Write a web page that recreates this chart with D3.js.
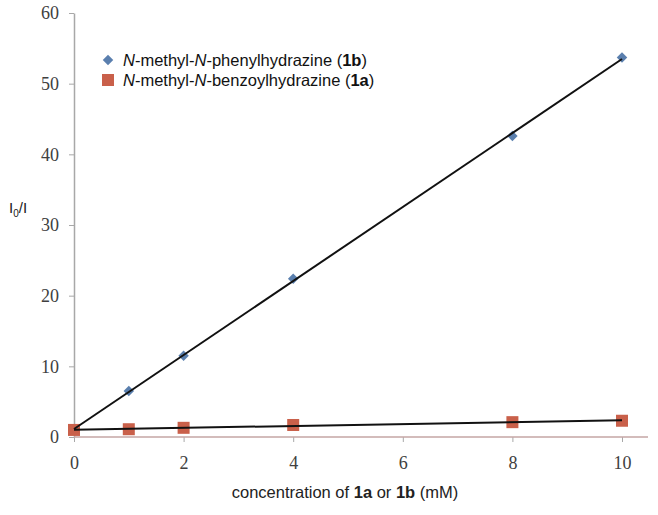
<!DOCTYPE html>
<html>
<head>
<meta charset="utf-8">
<script src="https://cdn.jsdelivr.net/npm/d3@7"></script>
<style>
  body { margin: 0; background: #fff; }
  svg { display: block; }
  .tick text { font-family: "Liberation Serif", "DejaVu Serif", serif; }
</style>
</head>
<body>
<div id="chart"></div>
<script>
// concentrations (mM)
var conc = [0, 1, 2, 4, 8, 10];
// I0/I readings
var phenyl = [1.0, 6.5, 11.5, 22.4, 42.6, 53.7];   // 1b, diamonds
var benzoyl = [1.0, 1.1, 1.3, 1.7, 2.1, 2.3];      // 1a, squares
var xTicks = [0, 2, 4, 6, 8, 10];
var yTicks = [0, 10, 20, 30, 40, 50, 60];

var width = 658, height = 515;
var mLeft = 74, mRight = 622, mTop = 13, mBottom = 437;

var svg = d3.select("#chart").append("svg")
  .attr("width", width)
  .attr("height", height);

var x = d3.scaleLinear().domain([0, 10]).range([mLeft, mRight]);
var y = d3.scaleLinear().domain([0, 60]).range([mBottom, mTop]);

// least squares fit for the trend lines
function fit(xs, ys) {
  var mx = d3.mean(xs), my = d3.mean(ys);
  var sxy = d3.sum(xs, function(v, i) { return (v - mx) * (ys[i] - my); });
  var sxx = d3.sum(xs, function(v) { return (v - mx) * (v - mx); });
  var b = sxy / sxx;
  return function(v) { return my + b * (v - mx); };
}

// y axis
var yAxis = svg.append("g")
  .attr("transform", "translate(" + mLeft + ",0)")
  .call(d3.axisLeft(y).tickValues(yTicks).tickSize(5).tickSizeOuter(0).tickPadding(10));
yAxis.select(".domain").attr("stroke", "#a8a8a8").attr("stroke-width", 1.5);
yAxis.selectAll(".tick line").attr("stroke", "#a8a8a8");
yAxis.selectAll(".tick text").attr("font-size", 18).attr("fill", "#404040");

// x axis (line runs a bit past the last tick)
var xAxis = svg.append("g")
  .attr("transform", "translate(0," + mBottom + ")")
  .call(d3.axisBottom(x).tickValues(xTicks).tickSize(5).tickSizeOuter(0).tickPadding(14));
xAxis.select(".domain").remove();
xAxis.append("line")
  .attr("x1", mLeft).attr("x2", 648)
  .attr("stroke", "#c4a6a4").attr("stroke-width", 1.5);
xAxis.selectAll(".tick line").attr("stroke", "#a8a8a8");
xAxis.selectAll(".tick text").attr("font-size", 18).attr("fill", "#404040");

// markers
svg.append("g").selectAll("path")
  .data(conc)
  .enter().append("path")
  .attr("d", d3.symbol().type(d3.symbolDiamond2).size(70))
  .attr("transform", function(d, i) { return "translate(" + x(d) + "," + y(phenyl[i]) + ")"; })
  .attr("fill", "#5a7fae");

svg.append("g").selectAll("rect")
  .data(conc)
  .enter().append("rect")
  .attr("x", function(d) { return x(d) - 6; })
  .attr("y", function(d, i) { return y(benzoyl[i]) - 6; })
  .attr("width", 12).attr("height", 12)
  .attr("fill", "#c9604a");

// trend lines
var f1 = fit(conc, phenyl), f2 = fit(conc, benzoyl);
[f1, f2].forEach(function(f) {
  svg.append("line")
    .attr("x1", x(0)).attr("y1", y(f(0)))
    .attr("x2", x(10)).attr("y2", y(f(10)))
    .attr("stroke", "#111").attr("stroke-width", 2);
});

// legend
var legend = svg.append("g")
  .attr("font-family", "'Liberation Sans', Arial, sans-serif")
  .attr("font-size", 16.5)
  .attr("fill", "#111");

legend.append("path")
  .attr("d", d3.symbol().type(d3.symbolDiamond2).size(70))
  .attr("transform", "translate(108,60)")
  .attr("fill", "#5a7fae");
legend.append("rect")
  .attr("x", 102).attr("y", 74).attr("width", 12).attr("height", 12)
  .attr("fill", "#c9604a");

function legendText(ty, name, label) {
  var t = legend.append("text").attr("x", 123).attr("y", ty);
  t.append("tspan").attr("font-style", "italic").text("N");
  t.append("tspan").text("-methyl-");
  t.append("tspan").attr("font-style", "italic").text("N");
  t.append("tspan").text("-" + name + " (");
  t.append("tspan").attr("font-weight", "bold").text(label);
  t.append("tspan").text(")");
}
legendText(66, "phenylhydrazine", "1b");
legendText(86, "benzoylhydrazine", "1a");

// axis titles
var xt = svg.append("text")
  .attr("x", 345).attr("y", 498)
  .attr("text-anchor", "middle")
  .attr("font-family", "'Liberation Sans', Arial, sans-serif")
  .attr("font-size", 16.5)
  .attr("fill", "#222");
xt.append("tspan").text("concentration of ");
xt.append("tspan").attr("font-weight", "bold").text("1a");
xt.append("tspan").text(" or ");
xt.append("tspan").attr("font-weight", "bold").text("1b");
xt.append("tspan").text(" (mM)");

var yt = svg.append("text")
  .attr("x", 9).attr("y", 213)
  .attr("font-family", "'Liberation Sans', Arial, sans-serif")
  .attr("font-size", 15)
  .attr("fill", "#222");
yt.append("tspan").text("I");
yt.append("tspan").attr("font-size", 10).attr("dy", 4).text("0");
yt.append("tspan").attr("dy", -4).text("/I");
</script>
</body>
</html>
